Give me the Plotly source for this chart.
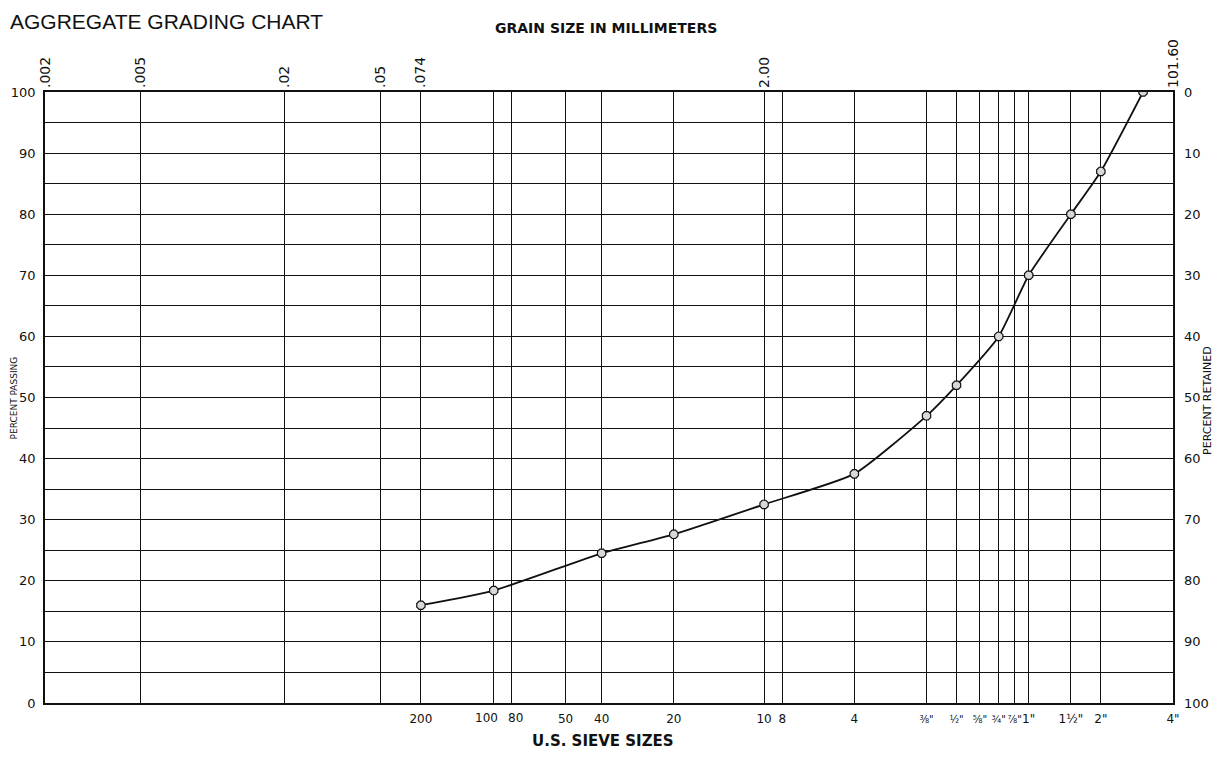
import numpy as np
import plotly.graph_objects as go

# ---- data ----
grain_mm = [0.074, 0.149, 0.42, 0.84, 2.00, 4.76, 9.52, 12.7, 19.05, 25.4, 38.1, 50.8, 76.2]
percent_passing = [16, 18.4, 24.5, 27.6, 32.5, 37.5, 47, 52, 60, 70, 80, 87, 100]

sieve_mm = [0.074, 0.149, 0.177, 0.297, 0.42, 0.84, 2.00, 2.38, 4.76,
            9.52, 12.7, 15.9, 19.05, 22.2, 25.4, 38.1, 50.8, 101.6]
sieve_labels = ["200", "100", "80", "50", "40", "20", "10", "8", "4",
                "⅜\"", "½\"", "⅝\"", "¾\"", "⅞\"", "1\"", "1½\"", "2\"", "4\""]
# labels nudged sideways in the original (sieve value -> pixel shift)
nudged = {0.149: -7, 0.177: 4}

mm_ticks = [0.002, 0.005, 0.02, 0.05, 0.074, 2.00, 101.6]
mm_labels = [".002", ".005", ".02", ".05", ".074", "2.00", "101.60"]

pass_ticks = list(range(0, 101, 5))
pass_labels = [str(v) if v % 10 == 0 else "" for v in pass_ticks]
retained_ticks = list(range(0, 101, 5))
retained_labels = [str(v) if v % 10 == 0 else "" for v in retained_ticks]

xr = [np.log10(0.002), np.log10(101.6)]
FONT = "DejaVu Sans"
INK = "#111111"


def small(label):
    # fractional-inch labels are printed small in the original
    if any(c in label for c in "⅜½⅝¾⅞") and len(label) <= 2:
        return "<span style='font-size:10px'>" + label + "</span>"
    return label


tick_text = [("" if v in nudged else small(s)) for v, s in zip(sieve_mm, sieve_labels)]

fig = go.Figure()

# invisible helper traces so the secondary axes are drawn
fig.add_trace(go.Scatter(x=grain_mm, y=percent_passing, xaxis="x2", yaxis="y",
                         mode="markers", marker=dict(opacity=0), hoverinfo="skip",
                         showlegend=False))
fig.add_trace(go.Scatter(x=grain_mm, y=[100 - v for v in percent_passing],
                         xaxis="x", yaxis="y2", mode="markers",
                         marker=dict(opacity=0), hoverinfo="skip", showlegend=False))

# grading curve
fig.add_trace(go.Scatter(
    x=grain_mm, y=percent_passing, mode="lines+markers",
    line=dict(color=INK, width=1.8, shape="spline", smoothing=0.5),
    marker=dict(symbol="octagon", size=9, color="#d8d8d8",
                line=dict(color=INK, width=1.2)),
    showlegend=False,
))

annotations = [
    dict(text="AGGREGATE GRADING CHART", xref="paper", yref="paper",
         x=-0.033, y=1.1146, xanchor="left", yanchor="middle", showarrow=False,
         font=dict(family="Liberation Sans", size=21, color=INK)),
    dict(text="<b>GRAIN SIZE IN MILLIMETERS</b>", xref="paper", yref="paper",
         x=0.497, y=1.105, xanchor="center", yanchor="middle", showarrow=False,
         font=dict(family=FONT, size=14, color=INK)),
    dict(text="<b>U.S. SIEVE SIZES</b>", xref="paper", yref="paper",
         x=0.495, y=-0.062, xanchor="center", yanchor="middle", showarrow=False,
         font=dict(family=FONT, size=15, color=INK)),
    dict(text="PERCENT RETAINED", xref="paper", yref="paper",
         x=1.031, y=0.496, xanchor="center", yanchor="middle", showarrow=False,
         textangle=-90, font=dict(family=FONT, size=11, color=INK)),
    dict(text="PERCENT PASSING", xref="paper", yref="paper",
         x=-0.0275, y=0.5, xanchor="center", yanchor="middle", showarrow=False,
         textangle=-90, font=dict(family=FONT, size=9, color=INK)),
]
for v, s in zip(sieve_mm, sieve_labels):
    if v in nudged:
        annotations.append(dict(
            text=s, x=np.log10(v), xref="x", y=0, yref="paper",
            yanchor="top", yshift=-6, xshift=nudged[v], showarrow=False,
            font=dict(family=FONT, size=12, color=INK)))

# the page adds an 8px body margin, so the figure is 16px smaller than the window
fig.update_layout(
    width=1210, height=744,
    margin=dict(l=37, r=45, t=84, b=49),
    paper_bgcolor="white", plot_bgcolor="white",
    font=dict(family=FONT, color=INK, size=11),
    xaxis=dict(type="log", range=xr, tickvals=sieve_mm,
               ticktext=tick_text, automargin=False,
               tickangle=0, showgrid=True, gridcolor=INK, gridwidth=1.2,
               showline=True, linecolor=INK, linewidth=1.6, mirror=True,
               ticks="", tickfont=dict(size=12, family=FONT, color=INK),
               ticklabelstandoff=4, zeroline=False),
    xaxis2=dict(type="log", range=xr, overlaying="x", side="top", automargin=False,
                tickvals=mm_ticks, ticktext=mm_labels, tickangle=-90,
                showgrid=True, gridcolor=INK, gridwidth=1.2, ticks="",
                tickfont=dict(size=14, family=FONT, color=INK),
                ticklabelstandoff=3, zeroline=False),
    yaxis=dict(range=[0, 100], tickvals=pass_ticks, ticktext=pass_labels,
               automargin=False, showgrid=True, gridcolor=INK, gridwidth=1.2,
               showline=True, linecolor=INK, linewidth=1.6, mirror=True,
               ticks="", tickfont=dict(size=13, family=FONT, color=INK),
               ticklabelstandoff=5, zeroline=False),
    yaxis2=dict(range=[100, 0], overlaying="y", side="right", automargin=False,
                tickvals=retained_ticks, ticktext=retained_labels,
                showgrid=False, ticks="", zeroline=False,
                tickfont=dict(size=13, family=FONT, color=INK),
                ticklabelstandoff=10),
    annotations=annotations,
)

fig.write_html("out.html")
